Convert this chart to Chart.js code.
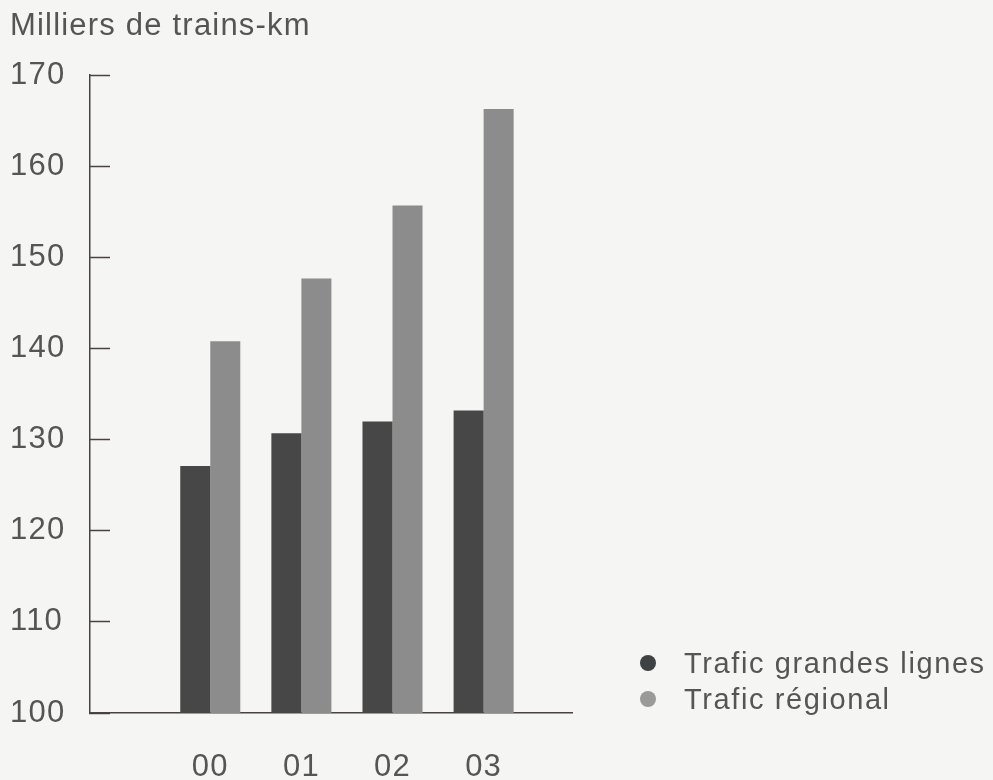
<!DOCTYPE html>
<html>
<head>
<meta charset="utf-8">
<script src="https://cdn.jsdelivr.net/npm/chart.js@4.4.1/dist/chart.umd.min.js"></script>
<style>
  html, body { margin: 0; padding: 0; background: #f5f5f3; }
  #wrap { position: relative; width: 993px; height: 780px; }
  #legend { position: absolute; left: 640px; top: 645px; font-family: "Liberation Sans", Arial, sans-serif;
            font-size: 29px; color: #555; letter-spacing: 1.6px; }
  #legend .item { height: 36px; display: flex; align-items: center; }
  #legend .dot { width: 16px; height: 16px; border-radius: 50%; margin-right: 28px; }
</style>
</head>
<body>
<div id="wrap">
  <canvas id="bar-chart" width="993" height="780"></canvas>
  <div id="legend"></div>
</div>
<script>
var categories = ["00", "01", "02", "03"];
var grandesLignes = [127.1, 130.7, 132.0, 133.2];
var regional = [140.8, 147.7, 155.7, 166.3];
var yTicks = [100, 110, 120, 130, 140, 150, 160, 170];
var seriesNames = ["Trafic grandes lignes", "Trafic régional"];
var seriesColors = ["#474747", "#8c8c8c"];

var textColor = "#555555";
var axisColor = "#4a4045";
var fontFamily = '"Liberation Sans", Arial, sans-serif';

// the scan's lettering is wider than Arial, so add some tracking
var tracking = {
    id: "tracking",
    beforeUpdate: function(chart) { chart.ctx.letterSpacing = "1.2px"; },
    beforeDraw: function(chart) { chart.ctx.letterSpacing = "1.2px"; }
};

function toPoints(values) {
    var pts = [];
    for (var i = 0; i < values.length; i++)
        pts.push({ x: i, y: values[i] });
    return pts;
}

var data = {
    datasets: [
        {
            label: seriesNames[0],
            backgroundColor: seriesColors[0],
            data: toPoints(grandesLignes)
        },
        {
            label: seriesNames[1],
            backgroundColor: seriesColors[1],
            data: toPoints(regional)
        }
    ]
};

var chartCanvas = document.getElementById("bar-chart");
var barChart = new Chart(chartCanvas, {
    type: "bar",
    data: data,
    plugins: [tracking],
    options: {
        responsive: false,
        animation: false,
        categoryPercentage: 0.659,
        barPercentage: 1.0,
        layout: { padding: { left: 10, right: 421, top: 0, bottom: 0 } },
        plugins: {
            legend: { display: false },
            tooltip: { enabled: false },
            title: {
                display: true,
                text: "Milliers de trains-km",
                align: "start",
                color: textColor,
                font: { family: fontFamily, size: 31, weight: "normal", lineHeight: 1.2 },
                padding: { top: 8, bottom: 30 }
            }
        },
        scales: {
            x: {
                type: "linear",
                min: -1.32,
                max: 3.97,
                offset: false,
                afterBuildTicks: function(scale) {
                    scale.ticks = categories.map(function(c, i) { return { value: i }; });
                },
                afterFit: function(scale) { scale.height = 67; },
                grid: { display: false, offset: false },
                border: { display: true, color: axisColor, width: 1.5 },
                ticks: {
                    padding: 28,
                    maxRotation: 0,
                    color: textColor,
                    font: { family: fontFamily, size: 31 },
                    callback: function(value) { return categories[value]; }
                }
            },
            y: {
                min: yTicks[0],
                max: yTicks[yTicks.length - 1],
                afterBuildTicks: function(scale) {
                    scale.ticks = yTicks.map(function(v) { return { value: v }; });
                },
                afterFit: function(scale) { scale.width = 80; },
                grid: {
                    drawOnChartArea: false,
                    drawTicks: true,
                    tickLength: -20,
                    tickColor: axisColor,
                    tickWidth: 1.5
                },
                border: { display: true, color: axisColor, width: 1.5 },
                ticks: {
                    crossAlign: "far",
                    color: textColor,
                    font: { family: fontFamily, size: 31 }
                }
            }
        }
    }
});

// legend sits in the lower right corner, outside the plot
var legendBox = document.getElementById("legend");
for (var s = 0; s < seriesNames.length; s++) {
    var item = document.createElement("div");
    item.className = "item";
    var dot = document.createElement("span");
    dot.className = "dot";
    dot.style.background = s == 0 ? "#3e4242" : "#9a9a9a";
    var label = document.createElement("span");
    label.textContent = seriesNames[s];
    item.appendChild(dot);
    item.appendChild(label);
    legendBox.appendChild(item);
}
</script>
</body>
</html>
